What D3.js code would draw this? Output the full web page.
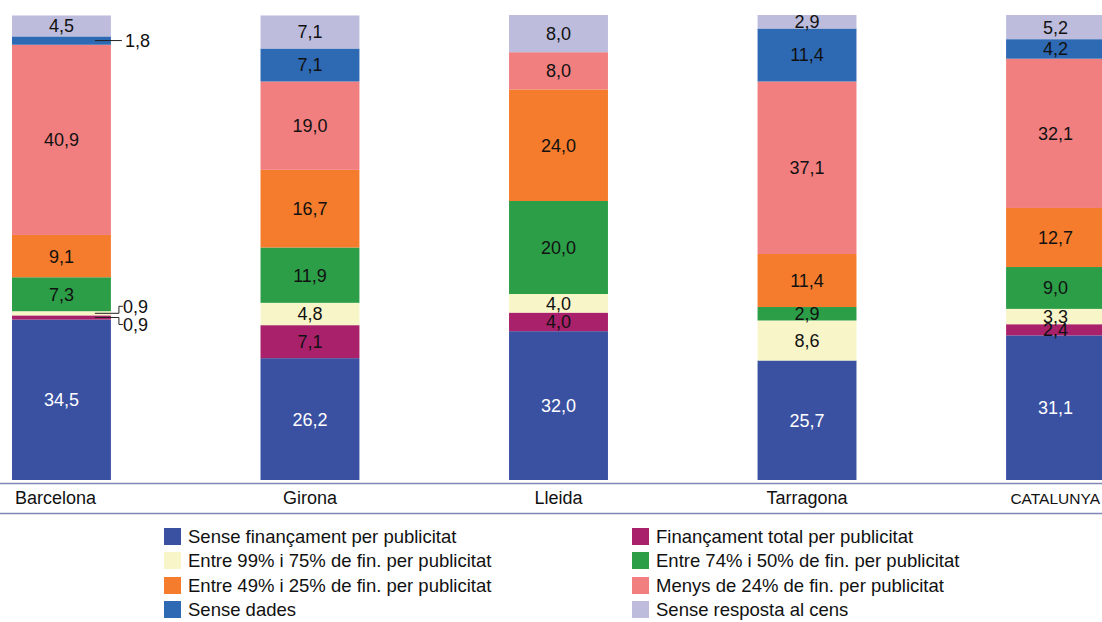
<!DOCTYPE html>
<html>
<head>
<meta charset="utf-8">
<script src="https://cdn.jsdelivr.net/npm/d3@7"></script>
<style>
  body { margin: 0; background: #fff; }
  svg { display: block; font-family: "Liberation Sans", Arial, Helvetica, sans-serif; }
</style>
</head>
<body>
<script>

// Categories (provinces)
const categories = ["Barcelona", "Girona", "Lleida", "Tarragona", "CATALUNYA"];

// Series, from the bottom of the stack to the top
const seriesNames = [
    "Sense finançament per publicitat",
    "Finançament total per publicitat",
    "Entre 99% i 75% de fin. per publicitat",
    "Entre 74% i 50% de fin. per publicitat",
    "Entre 49% i 25% de fin. per publicitat",
    "Menys de 24% de fin. per publicitat",
    "Sense dades",
    "Sense resposta al cens"
];

const senseFinancament = [34.5, 26.2, 32.0, 25.7, 31.1];
const financamentTotal = [0.9, 7.1, 4.0, 0, 2.4];
const entre99i75 = [0.9, 4.8, 4.0, 8.6, 3.3];
const entre74i50 = [7.3, 11.9, 20.0, 2.9, 9.0];
const entre49i25 = [9.1, 16.7, 24.0, 11.4, 12.7];
const menysDe24 = [40.9, 19.0, 8.0, 37.1, 32.1];
const senseDades = [1.8, 7.1, 0, 11.4, 4.2];
const senseResposta = [4.5, 7.1, 8.0, 2.9, 5.2];

const seriesValues = [senseFinancament, financamentTotal, entre99i75, entre74i50,
    entre49i25, menysDe24, senseDades, senseResposta];

const colors = ["#3a51a2", "#a9216a", "#f8f6c8", "#2c9e48", "#f47c2c",
    "#f17f80", "#2e69b3", "#bebcdd"];

// Legend order: two columns, row by row
const legendOrder = [0, 1, 2, 3, 4, 5, 6, 7];

const width = 1102, height = 622;

const svg = d3.select("body").append("svg")
    .attr("width", width)
    .attr("height", height);

// Build rows for the stack
const rows = categories.map(function(c, i) {
    let row = { cat: c };
    seriesNames.forEach(function(s, j) { row[s] = seriesValues[j][i]; });
    return row;
});

const stack = d3.stack().keys(seriesNames);
const stacked = stack(rows);

const x = d3.scaleBand()
    .domain(categories)
    .range([12, 1105])
    .paddingInner(0.602)
    .paddingOuter(0);

const y = d3.scaleLinear()
    .domain([0, 100])
    .range([480, 15]);

const fmt = function(v) { return d3.format(".1f")(v).replace(".", ","); };

// Segments that get an outside callout instead of an inside label
const callouts = [
    { cat: "Barcelona", series: 6, dir: 0 },
    { cat: "Barcelona", series: 2, dir: -1 },
    { cat: "Barcelona", series: 1, dir: 1 }
];
function isCallout(cat, j) {
    return callouts.some(function(c) { return c.cat === cat && c.series === j; });
}

const layers = svg.append("g").selectAll("g")
    .data(stacked).enter()
    .append("g")
    .attr("fill", function(d, j) { return colors[j]; });

layers.selectAll("rect")
    .data(function(d) { return d; }).enter()
    .append("rect")
    .attr("x", function(d) { return x(d.data.cat); })
    .attr("width", x.bandwidth())
    .attr("y", function(d) { return y(d[1]); })
    .attr("height", function(d) { return y(d[0]) - y(d[1]); });

// Inside labels
stacked.forEach(function(layer, j) {
    layer.forEach(function(d) {
        let v = d[1] - d[0];
        if (v <= 0 || isCallout(d.data.cat, j)) return;
        svg.append("text")
            .attr("x", x(d.data.cat) + x.bandwidth() / 2)
            .attr("y", (y(d[0]) + y(d[1])) / 2)
            .attr("dy", "0.36em")
            .attr("text-anchor", "middle")
            .attr("font-size", 18)
            .attr("fill", j === 0 ? "#ffffff" : "#111111")
            .text(fmt(v));
    });
});

// Outside callouts for thin segments
callouts.forEach(function(c) {
    let d = stacked[c.series].find(function(e) { return e.data.cat === c.cat; });
    let yMid = (y(d[0]) + y(d[1])) / 2;
    let x0 = x(c.cat) + x.bandwidth() - 16;
    let g = svg.append("g");
    let labelY;
    if (c.dir === 0) {
        g.append("line")
            .attr("x1", x0).attr("x2", x0 + 27)
            .attr("y1", yMid).attr("y2", yMid)
            .attr("stroke", "#222").attr("stroke-width", 1);
        labelY = yMid;
        g.append("text")
            .attr("x", x0 + 30).attr("y", labelY)
            .attr("dy", "0.36em")
            .attr("font-size", 18).attr("fill", "#111")
            .text(fmt(d[1] - d[0]));
    } else {
        labelY = yMid + c.dir * 7;
        g.append("path")
            .attr("d", "M" + x0 + "," + yMid + "H" + (x0 + 24) + "V" + labelY + "H" + (x0 + 28))
            .attr("fill", "none")
            .attr("stroke", "#222").attr("stroke-width", 1);
        g.append("text")
            .attr("x", x0 + 28).attr("y", labelY)
            .attr("dy", "0.36em")
            .attr("font-size", 18).attr("fill", "#111")
            .text(fmt(d[1] - d[0]));
    }
});

// Category axis: two rules with labels between
svg.append("line")
    .attr("x1", 0).attr("x2", width)
    .attr("y1", 483.5).attr("y2", 483.5)
    .attr("stroke", "#7f87b7").attr("stroke-width", 1.5);
svg.append("line")
    .attr("x1", 0).attr("x2", width)
    .attr("y1", 513.5).attr("y2", 513.5)
    .attr("stroke", "#7f87b7").attr("stroke-width", 1.5);

categories.forEach(function(c, i) {
    let anchor = "middle", xp = x(c) + x.bandwidth() / 2, fs = 18;
    if (i === 0) { anchor = "start"; xp = x(c) + 3; }
    if (i === categories.length - 1) { anchor = "end"; xp = width - 2; fs = 15.5; }
    svg.append("text")
        .attr("x", xp).attr("y", 498)
        .attr("dy", "0.36em")
        .attr("text-anchor", anchor)
        .attr("font-size", fs)
        .attr("fill", "#111")
        .text(c);
});

// Legend
const legendCols = [164, 632];
const legendRows = [536, 560, 585, 609];
legendOrder.forEach(function(j, k) {
    let col = k % 2, row = Math.floor(k / 2);
    let lx = legendCols[col], ly = legendRows[row];
    svg.append("rect")
        .attr("x", lx).attr("y", ly - 8)
        .attr("width", 17).attr("height", 17)
        .attr("fill", colors[j]);
    svg.append("text")
        .attr("x", lx + 24).attr("y", ly)
        .attr("dy", "0.36em")
        .attr("font-size", 18.5)
        .attr("fill", "#111")
        .text(seriesNames[j]);
});

</script>
</body>
</html>
